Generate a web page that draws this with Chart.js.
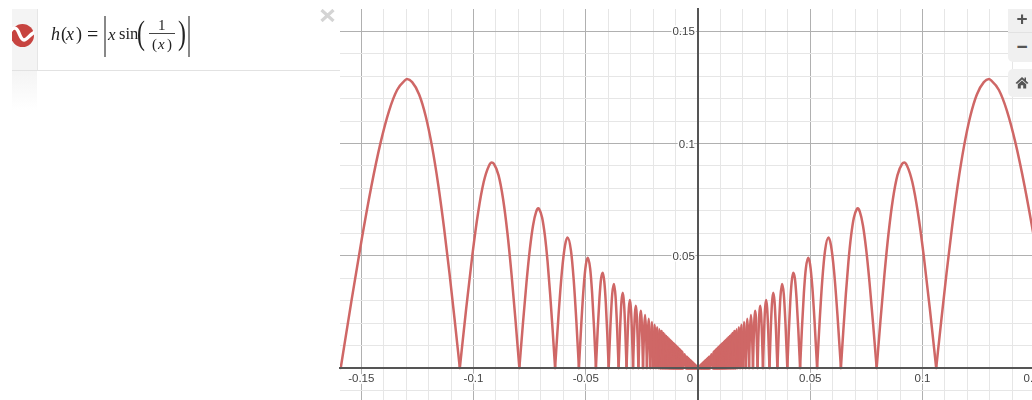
<!DOCTYPE html>
<html><head><meta charset="utf-8">
<script src="https://cdn.jsdelivr.net/npm/chart.js@4"></script>
<style>
html,body{margin:0;padding:0;background:#fff;overflow:hidden;width:1032px;height:400px}
#wrap{position:absolute;left:0;top:0;width:1060px;height:400px}
#c{position:absolute;left:0;top:0}
.m{position:absolute;font-family:"Liberation Serif",serif;color:#222;white-space:pre;line-height:1}
.i{font-style:italic}
.abs{position:absolute;background:#888;width:2px;top:16px;height:41px}
.btn{position:absolute;left:1008px;width:28px;background:#f0f0f0;font-family:"Liberation Sans",sans-serif;font-weight:bold;color:#555;text-align:center}
</style></head><body>
<div id="wrap"><canvas id="c" width="1060" height="400"></canvas></div>

<div style="position:absolute;left:12px;top:9px;width:25px;height:61px;background:#f4f4f4"></div>
<div style="position:absolute;left:12px;top:70px;width:25px;height:40px;background:linear-gradient(#f4f4f4,#fff)"></div>
<div style="position:absolute;left:12px;top:70px;width:328px;height:1px;background:#e2e2e2"></div>
<div style="position:absolute;left:37px;top:9px;width:1px;height:61px;background:#e6e6e6"></div>
<svg style="position:absolute;left:12px;top:24px" width="22" height="23" viewBox="0 0 22 23">
<circle cx="10.5" cy="11.5" r="11.5" fill="#c74440"/>
<path d="M-2 8 C1 3 4 3 6 7 C8 11 9 16 12 16 C15 16 17 11 23 8" fill="none" stroke="#fff" stroke-width="3.4"/></svg>
<svg style="position:absolute;left:320px;top:9px" width="15" height="13"><path d="M1.5 1 L13.5 12 M13.5 1 L1.5 12" stroke="#d4d4d4" stroke-width="3.2"/></svg>

<span class="m i" style="left:51px;top:25px;font-size:18px">h</span>
<span class="m" style="left:61px;top:25px;font-size:18px">(</span>
<span class="m i" style="left:66px;top:25px;font-size:18px">x</span>
<span class="m" style="left:76px;top:25px;font-size:18px">)</span>
<span class="m" style="left:87px;top:24px;font-size:20px">=</span>
<div class="abs" style="left:104px"></div>
<span class="m i" style="left:108px;top:26px;font-size:17px">x</span>
<span class="m" style="left:119px;top:26px;font-size:16.5px">sin</span>
<span class="m" style="left:137px;top:16px;font-size:34px;font-weight:100;transform:scaleX(.7);transform-origin:left">(</span>
<span class="m" style="left:158px;top:18px;font-size:15px">1</span>
<div style="position:absolute;left:149px;top:33px;width:26px;height:1px;background:#444"></div>
<span class="m" style="left:152px;top:37px;font-size:15px">(</span>
<span class="m i" style="left:158px;top:37px;font-size:15px">x</span>
<span class="m" style="left:167px;top:37px;font-size:15px">)</span>
<span class="m" style="left:178px;top:16px;font-size:34px;font-weight:100;transform:scaleX(.7);transform-origin:left">)</span>
<div class="abs" style="left:188px"></div>

<div class="btn" style="top:9px;height:23px;line-height:19px;font-size:19px;border-bottom:1px solid #e2e2e2">+</div>
<div class="btn" style="top:33px;height:29px;line-height:27px;font-size:19px;border-bottom-left-radius:5px">−</div>
<div class="btn" style="top:69px;height:28px;border-top-left-radius:5px;border-bottom-left-radius:5px">
<svg style="position:absolute;left:7px;top:7px" width="14" height="13" viewBox="0 0 14 13"><path d="M7 1 L0.5 7 L2 8 L7 3.4 L12 8 L13.5 7 L11 4.7 V1.5 H9.5 V3.3 Z M2.8 8.2 V12.5 H5.8 V9.3 H8.2 V12.5 H11.2 V8.2 L7 4.4 Z" fill="#555"/></svg></div>

<script>
const functionName = 'h(x) = |x sin(1/(x))|';
const xTickLabels = ['-0.15','-0.1','-0.05','0','0.05','0.1','0.15'];
const yTickLabels = ['0.05','0.1','0.15'];
const leftX = [-.15915,-.15433,-.14979,-.14551,-.14147,-.13765,-.13403,-.13059,-.1296,-.12732,-.12422,-.12126,-.11844,-.11575,-.11318,-.11072,-.10836,-.10610,
-.10324,-.10052,-.09794,-.09549,-.09316,-.0919,-.09095,-.08883,-.08681,-.08488,-.08304,-.08127,-.07958,
-.07795,-.07639,-.07490,-.07346,-.07207,-.0712,-.07074,-.06945,-.06821,-.06701,-.06586,-.06474,-.06366,
-.06211,-.06063,-.05922,-.0581,-.05659,-.05536,-.05418,-.05305,
-.05197,-.05093,-.04993,-.0491,-.04805,-.04716,-.04630,-.04547,
-.04468,-.04390,-.04316,-.04244,-.04175,-.04107,-.04042,-.03979,
-.03898,-.03820,-.03745,-.03673,-.03604,-.03537,
-.03472,-.03410,-.03351,-.03293,-.03237,-.03183,
-.03131,-.03080,-.03032,-.02984,-.02938,-.02894,
-.02851,-.02809,-.02768,-.02728,-.02690,-.02653,
-.02616,-.02581,-.02546,-.02513,-.02480,-.02449,
-.02402,-.02358,-.02315,-.02274,-.02234,-.02195,-.02158,-.02122,
-.02087,-.02054,-.02021,-.01989,-.01959,-.01929,-.01900,-.01872,
-.01845,-.01819,-.01793,-.01768,-.01744,-.01721,-.01698,-.01675,
-.01632,-.01592,-.01553,-.01516,-.01481,-.01447,-.01415,-.01384,-.01354,-.01326,-.01299,-.01273,
-.01248,-.01224,-.01201,-.01179,-.01158,-.01137,-.01118,-.01098,-.01079,-.01061,-.01044,-.01027,
-.0100,-.00985,-.0097,-.00955,-.0094,-.00925,-.0091,-.00895,-.0088,-.00865,-.0085,-.00835,-.0082,-.00805,-.0079,-.00775,-.0076,-.00745,-.0073,-.00715,-.0070,-.0068,
-.0060,-.0052,
-.0050,-.00485,-.0047,-.00455,-.0044,-.00425,-.0041,-.00395,-.0038,-.00365,-.0035,-.00335,-.0032,-.00305,-.0029,-.00275,-.0026,-.00245,-.0023,-.00215,-.0020,-.00185,-.0017,-.00155,-.0014,-.00125,-.0011,-.00095,-.0008,-.00065,-.0005,-.00035,-.0002,0];
const leftY = [0,.03011,.05733,.08085,.10004,.11446,.12383,.12808,.1287,.12732,.12183,.11203,.09848,.08185,.06288,.04237,.02114,0,
.02672,.05026,.06925,.08270,.08998,.0915,.09095,.08580,.07518,.06002,.04152,.02103,0,
.02017,.03820,.05296,.06362,.06961,.0711,.07074,.06708,.05907,.04738,.03293,.01676,0,
.02377,.04287,.05471,.0581,.05228,.03915,.02073,0,
.01989,.03601,.04613,.0491,.04439,.03335,.01772,0,
.01710,.03104,.03987,.04244,.03857,.02904,.01547,0,
.01949,.03308,.03745,.03181,.01802,0,
.01736,.02953,.03351,.02852,.01619,0,
.01566,.02667,.03032,.02584,.01469,0,
.01425,.02433,.02768,.02363,.01345,0,
.01308,.02235,.02546,.02176,.01240,0,
.01699,.02358,.01637,0,.01580,.02195,.01526,0,
.01476,.02054,.01429,0,.01385,.01929,.01344,0,
.01305,.01819,.01268,0,.01233,.01721,.01201,0,
.01632,0,.01553,0,.01481,0,.01415,0,.01354,0,.01299,0,
.01248,0,.01201,0,.01158,0,.01118,0,.01079,0,.01044,0,
.0100,0,.0097,0,.0094,0,.0091,0,.0088,0,.0085,0,.0082,0,.0079,0,.0076,0,.0073,0,.0070,0,
.0060,0,
.0050,0,.0047,0,.0044,0,.0041,0,.0038,0,.0035,0,.0032,0,.0029,0,.0026,0,.0023,0,.0020,0,.0017,0,.0014,0,.0011,0,.0008,0,.0005,0,.0002,0];
const rightX = [.15915,.15433,.14979,.14551,.14147,.13765,.13403,.13059,.1296,.12732,.12422,.12126,.11844,.11575,.11318,.11072,.10836,.10610,
.10324,.10052,.09794,.09549,.09316,.0919,.09095,.08883,.08681,.08488,.08304,.08127,.07958,
.07795,.07639,.07490,.07346,.07207,.0712,.07074,.06945,.06821,.06701,.06586,.06474,.06366,
.06211,.06063,.05922,.0581,.05659,.05536,.05418,.05305,
.05197,.05093,.04993,.0491,.04805,.04716,.04630,.04547,
.04468,.04390,.04316,.04244,.04175,.04107,.04042,.03979,
.03898,.03820,.03745,.03673,.03604,.03537,
.03472,.03410,.03351,.03293,.03237,.03183,
.03131,.03080,.03032,.02984,.02938,.02894,
.02851,.02809,.02768,.02728,.02690,.02653,
.02616,.02581,.02546,.02513,.02480,.02449,
.02402,.02358,.02315,.02274,.02234,.02195,.02158,.02122,
.02087,.02054,.02021,.01989,.01959,.01929,.01900,.01872,
.01845,.01819,.01793,.01768,.01744,.01721,.01698,.01675,
.01632,.01592,.01553,.01516,.01481,.01447,.01415,.01384,.01354,.01326,.01299,.01273,
.01248,.01224,.01201,.01179,.01158,.01137,.01118,.01098,.01079,.01061,.01044,.01027,
.0100,.00985,.0097,.00955,.0094,.00925,.0091,.00895,.0088,.00865,.0085,.00835,.0082,.00805,.0079,.00775,.0076,.00745,.0073,.00715,.0070,.0068,
.0060,.0052,
.0050,.00485,.0047,.00455,.0044,.00425,.0041,.00395,.0038,.00365,.0035,.00335,.0032,.00305,.0029,.00275,.0026,.00245,.0023,.00215,.0020,.00185,.0017,.00155,.0014,.00125,.0011,.00095,.0008,.00065,.0005,.00035,.0002,0];
const rightY = [0,.03011,.05733,.08085,.10004,.11446,.12383,.12808,.1287,.12732,.12183,.11203,.09848,.08185,.06288,.04237,.02114,0,
.02672,.05026,.06925,.08270,.08998,.0915,.09095,.08580,.07518,.06002,.04152,.02103,0,
.02017,.03820,.05296,.06362,.06961,.0711,.07074,.06708,.05907,.04738,.03293,.01676,0,
.02377,.04287,.05471,.0581,.05228,.03915,.02073,0,
.01989,.03601,.04613,.0491,.04439,.03335,.01772,0,
.01710,.03104,.03987,.04244,.03857,.02904,.01547,0,
.01949,.03308,.03745,.03181,.01802,0,
.01736,.02953,.03351,.02852,.01619,0,
.01566,.02667,.03032,.02584,.01469,0,
.01425,.02433,.02768,.02363,.01345,0,
.01308,.02235,.02546,.02176,.01240,0,
.01699,.02358,.01637,0,.01580,.02195,.01526,0,
.01476,.02054,.01429,0,.01385,.01929,.01344,0,
.01305,.01819,.01268,0,.01233,.01721,.01201,0,
.01632,0,.01553,0,.01481,0,.01415,0,.01354,0,.01299,0,
.01248,0,.01201,0,.01158,0,.01118,0,.01079,0,.01044,0,
.0100,0,.0097,0,.0094,0,.0091,0,.0088,0,.0085,0,.0082,0,.0079,0,.0076,0,.0073,0,.0070,0,
.0060,0,
.0050,0,.0047,0,.0044,0,.0041,0,.0038,0,.0035,0,.0032,0,.0029,0,.0026,0,.0023,0,.0020,0,.0017,0,.0014,0,.0011,0,.0008,0,.0005,0,.0002,0];

const lineColor = '#cf6766';
// Each hump is its own smooth piece: a gap after every point on the baseline keeps the cusps sharp.
const toPoints = (xs, ys) => {
  const pts = [];
  xs.forEach((x, i) => {
    pts.push({x, y: ys[i]});
    if (ys[i] === 0 && i > 0 && i < xs.length - 1) {
      pts.push({x, y: null});
      pts.push({x, y: 0});
    }
  });
  return pts;
};
const isMajor = v => Math.abs(v / 0.05 - Math.round(v / 0.05)) < 1e-6;
const isZero = v => Math.abs(v) < 1e-6;
const gridColor = c => isZero(c.tick.value) ? '#555' : isMajor(c.tick.value) ? '#b0b0b0' : '#e6e6e6';
const tickFont = {family: '"Liberation Sans", Arial, sans-serif', size: 11.5};
const curve = {
  borderColor: lineColor, borderWidth: 2.5, pointRadius: 0, cubicInterpolationMode: 'monotone', spanGaps: false,
  borderJoinStyle: 'round', borderCapStyle: 'round',
  segment: {borderWidth: c => Math.abs(c.p0.parsed.x) < 0.017 ? 3 : undefined}
};
const noScalePadding = s => { s.paddingTop = s.paddingBottom = s.paddingLeft = s.paddingRight = 0; };

new Chart(document.getElementById('c'), {
  type: 'line',
  data: {datasets: [
    {label: functionName, data: toPoints(leftX, leftY), ...curve},
    {label: functionName, data: toPoints(rightX, rightY), ...curve}
  ]},
  options: {
    responsive: false, animation: false, events: [],
    layout: {autoPadding: false, padding: {left: 340, top: 9, right: 0, bottom: 0}},
    plugins: {legend: {display: false}, title: {display: false}, tooltip: {enabled: false}},
    scales: {
      x: {
        type: 'linear', position: {y: 0}, min: -0.15947, max: 0.16125, afterFit: noScalePadding,
        border: {display: true, color: '#555', width: 2, z: 1},
        grid: {color: gridColor, lineWidth: 1, drawTicks: false},
        ticks: {
          stepSize: 0.01, includeBounds: false, autoSkip: false, maxRotation: 0, padding: 4,
          color: '#444', font: tickFont, textStrokeColor: '#fff', textStrokeWidth: 3,
          callback: v => {
            if (!isMajor(v)) return '';
            const s = xTickLabels[Math.round(v / 0.05) + 3];
            return isZero(v) ? s + '     ' : s;
          }
        }
      },
      y: {
        type: 'linear', position: {x: 0}, min: -0.01425, max: 0.1599, afterFit: noScalePadding,
        border: {display: true, color: '#555', width: 2, z: 1},
        grid: {color: gridColor, lineWidth: 1, drawTicks: false},
        ticks: {
          stepSize: 0.01, includeBounds: false, autoSkip: false, labelOffset: 1,
          color: '#444', font: tickFont, textStrokeColor: '#fff', textStrokeWidth: 3,
          callback: v => (isMajor(v) && !isZero(v)) ? yTickLabels[Math.round(v / 0.05) - 1] + ' ' : ''
        }
      }
    }
  }
});
</script>
</body></html>
